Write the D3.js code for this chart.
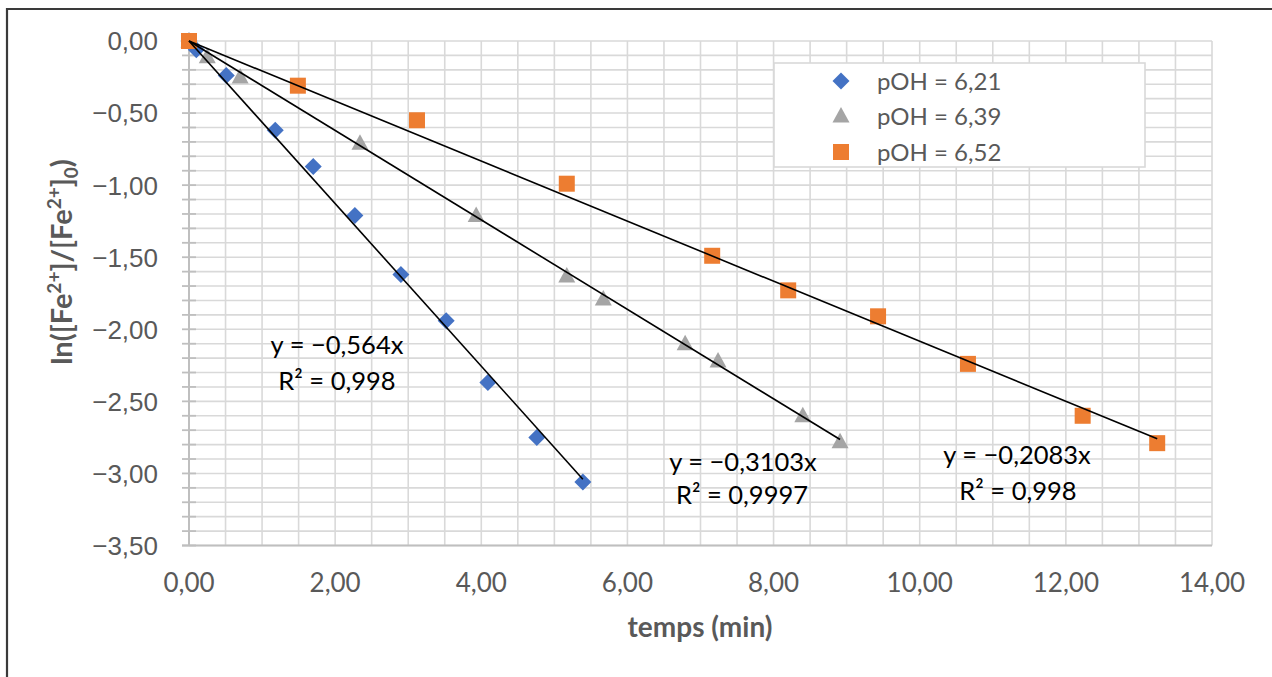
<!DOCTYPE html>
<html><head><meta charset="utf-8">
<script src="https://cdn.jsdelivr.net/npm/d3@7"></script>
<style>body{margin:0;background:#fff}</style>
</head><body><svg id="c" width="1272" height="677"></svg>
<script>
// ---- data ----
const seriesNames = ["pOH = 6,21", "pOH = 6,39", "pOH = 6,52"];
const x621 = [0, 0.10, 0.51, 1.18, 1.70, 2.27, 2.90, 3.52, 4.09, 4.76, 5.39];
const y621 = [0, -0.06, -0.24, -0.62, -0.87, -1.21, -1.62, -1.94, -2.37, -2.75, -3.06];
const x639 = [0, 0.25, 0.70, 2.34, 3.93, 5.17, 5.67, 6.79, 7.24, 8.40, 8.91];
const y639 = [0, -0.11, -0.25, -0.71, -1.21, -1.63, -1.79, -2.10, -2.22, -2.60, -2.78];
const x652 = [0, 1.49, 3.12, 5.17, 7.16, 8.20, 9.43, 10.66, 12.23, 13.25];
const y652 = [0, -0.31, -0.55, -0.99, -1.49, -1.73, -1.91, -2.24, -2.60, -2.79];
const slopes = [-0.564, -0.3103, -0.2083];
const slopeLabels = ["−0,564", "−0,3103", "−0,2083"];
const r2Labels = ["0,998", "0,9997", "0,998"];
const xTicks = [0, 2, 4, 6, 8, 10, 12, 14];
const yTicks = [0, -0.5, -1, -1.5, -2, -2.5, -3, -3.5];

// ---- layout ----
const colors = ["#4472C4", "#A5A5A5", "#ED7D31"];
const shapes = ["diamond", "triangle", "square"];
const svg = d3.select("#c");
const L = 189, R = 1212, T = 41, B = 545.5;
const x = d3.scaleLinear().domain([0, 14]).range([L, R]);
const y = d3.scaleLinear().domain([-3.5, 0]).range([B, T]);
const fmt = v => d3.format(".2f")(v).replace(".", ",").replace("-", "−");

svg.append("rect").attr("width", 1272).attr("height", 677).attr("fill", "#fff");
// outer chart border (left + top)
svg.append("path").attr("d", "M7,677 L7,9 L1272,9").attr("fill", "none")
  .attr("stroke", "#3a3a3a").attr("stroke-width", 2.2);

// gridlines
const grid = svg.append("g");
const yMinor = d3.range(0, 36).map(i => -i / 10);
grid.selectAll(".hg").data(yMinor).join("line")
  .attr("x1", L).attr("x2", R).attr("y1", d => y(d)).attr("y2", d => y(d))
  .attr("stroke", "#d9d9d9").attr("stroke-width", 1.6);
const xMinor = d3.range(1, 29).map(i => i / 2);
grid.selectAll(".vg").data(xMinor).join("line")
  .attr("x1", d => x(d)).attr("x2", d => x(d)).attr("y1", T).attr("y2", B)
  .attr("stroke", "#d9d9d9").attr("stroke-width", 1.6);

// axes
const ax = svg.append("g");
ax.selectAll(".yt").data(d3.range(0, 36).map(i => -i / 10)).join("line")
  .attr("x1", L - 7).attr("x2", L + 7).attr("y1", d => y(d)).attr("y2", d => y(d))
  .attr("stroke", "#bfbfbf").attr("stroke-width", 1.8);
ax.append("line").attr("x1", L).attr("x2", L).attr("y1", T).attr("y2", B)
  .attr("stroke", "#bfbfbf").attr("stroke-width", 2);
ax.append("line").attr("x1", L - 7).attr("x2", R).attr("y1", B).attr("y2", B)
  .attr("stroke", "#bfbfbf").attr("stroke-width", 2);

ax.selectAll(".yl").data(yTicks).join("text")
  .attr("x", 158).attr("y", d => y(d)).attr("dy", "0.36em")
  .attr("text-anchor", "end").attr("fill", "#595959")
  .attr("font-family", "Liberation Sans, Arial, sans-serif").attr("font-size", 26)
  .text(fmt);
ax.selectAll(".xl").data(xTicks).join("text")
  .attr("x", d => x(d)).attr("y", 583).attr("dy", "0.36em")
  .attr("text-anchor", "middle").attr("fill", "#595959")
  .attr("font-family", "Lato, sans-serif").attr("font-size", 26)
  .text(fmt);

// axis titles
svg.append("text").attr("x", 700).attr("y", 627).attr("dy", "0.36em")
  .attr("text-anchor", "middle").attr("fill", "#595959")
  .attr("font-family", "Lato, sans-serif").attr("font-weight", "bold").attr("font-size", 28)
  .text("temps (min)");
const yt = svg.append("text").attr("transform", "translate(72,262) rotate(-90)")
  .attr("text-anchor", "middle").attr("fill", "#595959")
  .attr("font-family", "Lato, sans-serif").attr("font-weight", "bold").attr("font-size", 29);
yt.append("tspan").text("ln([Fe");
yt.append("tspan").attr("dy", -11).attr("font-size", 19).text("2+");
yt.append("tspan").attr("dy", 11).text("]/[Fe");
yt.append("tspan").attr("dy", -11).attr("font-size", 19).text("2+");
yt.append("tspan").attr("dy", 11).text("]");
yt.append("tspan").attr("dy", 6).attr("font-size", 19).text("0");
yt.append("tspan").attr("dy", -6).text(")");

// markers
function marker(sel, shape, color) {
  if (shape === "diamond") sel.append("path").attr("d", "M0,-8.5 L8.5,0 L0,8.5 L-8.5,0Z").attr("fill", color);
  else if (shape === "triangle") sel.append("path").attr("d", "M0,-9 L8.5,6.5 L-8.5,6.5Z").attr("fill", color);
  else sel.append("rect").attr("x", -8).attr("y", -8).attr("width", 16).attr("height", 16).attr("fill", color);
}
const data = [
  x621.map((v, i) => [v, y621[i]]),
  x639.map((v, i) => [v, y639[i]]),
  x652.map((v, i) => [v, y652[i]])
];
data.forEach((pts, s) => {
  const g = svg.append("g");
  pts.forEach(p => {
    const m = g.append("g").attr("transform", `translate(${x(p[0])},${y(p[1])})`);
    marker(m, shapes[s], colors[s]);
  });
});
// trendlines
const line = d3.line().x(d => x(d[0])).y(d => y(d[1]));
data.forEach((pts, s) => {
  const xmax = d3.max(pts, d => d[0]);
  svg.append("path").attr("d", line([[0, 0], [xmax, slopes[s] * xmax]]))
    .attr("stroke", "#000").attr("stroke-width", 1.6).attr("fill", "none");
});

// equation labels
const eqPos = [[337, 345, 337, 381], [743, 462, 742, 495], [1017, 455, 1018, 491]];
eqPos.forEach((p, s) => {
  svg.append("text").attr("x", p[0]).attr("y", p[1]).attr("dy", "0.36em")
    .attr("text-anchor", "middle").attr("fill", "#000")
    .attr("font-family", "Lato, sans-serif").attr("font-size", 25.5)
    .text(`y = ${slopeLabels[s]}x`);
  svg.append("text").attr("x", p[2]).attr("y", p[3]).attr("dy", "0.36em")
    .attr("text-anchor", "middle").attr("fill", "#000")
    .attr("font-family", "Lato, sans-serif").attr("font-size", 25.5)
    .text(`R² = ${r2Labels[s]}`);
});

// legend
const lg = svg.append("g");
lg.append("rect").attr("x", 774).attr("y", 63).attr("width", 371).attr("height", 104)
  .attr("fill", "#fff").attr("stroke", "#d9d9d9").attr("stroke-width", 1.6);
const rowsY = [81, 116, 152];
seriesNames.forEach((n, s) => {
  const m = lg.append("g").attr("transform", `translate(841,${rowsY[s]})`);
  marker(m, shapes[s], colors[s]);
  lg.append("text").attr("x", 877).attr("y", rowsY[s]).attr("dy", "0.36em")
    .attr("fill", "#595959").attr("font-family", "Lato, sans-serif").attr("font-size", 24)
    .text(n);
});
</script></body></html>
